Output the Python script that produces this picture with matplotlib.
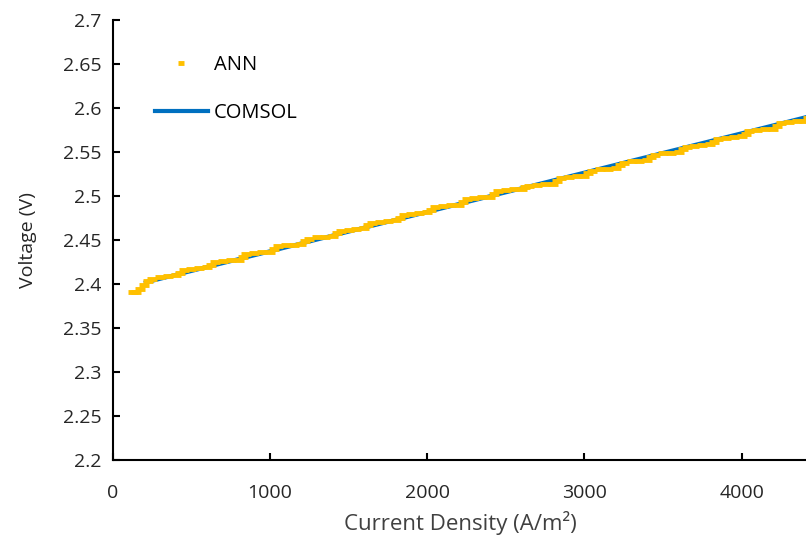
import matplotlib.pyplot as plt
import numpy as np

plt.rcParams['font.family'] = ['Open Sans', 'DejaVu Sans']

# COMSOL model curve
comsol_j = [210, 500, 1000, 1500, 2000, 2500, 3000, 3500, 4000, 4500]
comsol_v = [2.4020, 2.4150, 2.4373, 2.4597, 2.4820, 2.5044, 2.5267, 2.5491, 2.5714, 2.5938]

# ANN prediction
ann_j = [130, 150, 175, 200, 225,
         250, 300, 350, 400, 425, 450, 500, 550, 600, 625, 650, 700, 750, 800, 825,
         850, 900, 950, 1000, 1025, 1050, 1100, 1150, 1200, 1225, 1250, 1300, 1350, 1400, 1425,
         1450, 1500, 1550, 1600, 1625, 1650, 1700, 1750, 1800, 1825, 1850, 1900, 1950, 2000, 2025,
         2050, 2100, 2150, 2200, 2225, 2250, 2300, 2350, 2400, 2425, 2450, 2500, 2550, 2600, 2625,
         2650, 2700, 2750, 2800, 2825, 2850, 2900, 2950, 3000, 3025, 3050, 3100, 3150, 3200, 3225,
         3250, 3300, 3350, 3400, 3425, 3450, 3500, 3550, 3600, 3625, 3650, 3700, 3750, 3800, 3825,
         3850, 3900, 3950, 4000, 4025, 4050, 4100, 4150, 4200, 4225, 4250, 4300, 4350, 4400, 4425,
         4450]
ann_v = [2.3905, 2.3912, 2.3945, 2.3990, 2.4035,
         2.4062, 2.4078, 2.4090, 2.4100, 2.4130, 2.4158, 2.4172, 2.4182, 2.4189, 2.4220,
         2.4248, 2.4262, 2.4271, 2.4279, 2.4310, 2.4338, 2.4352, 2.4361, 2.4368, 2.4400,
         2.4428, 2.4442, 2.4450, 2.4457, 2.4488, 2.4516, 2.4530, 2.4539, 2.4547, 2.4578,
         2.4606, 2.4620, 2.4629, 2.4636, 2.4668, 2.4696, 2.4710, 2.4718, 2.4726, 2.4757,
         2.4785, 2.4799, 2.4808, 2.4815, 2.4846, 2.4874, 2.4888, 2.4897, 2.4904, 2.4935,
         2.4963, 2.4977, 2.4986, 2.4994, 2.5025, 2.5053, 2.5067, 2.5076, 2.5083, 2.5100,
         2.5114, 2.5128, 2.5135, 2.5143, 2.5174, 2.5202, 2.5216, 2.5225, 2.5232, 2.5263,
         2.5291, 2.5306, 2.5314, 2.5321, 2.5352, 2.5380, 2.5395, 2.5403, 2.5411, 2.5442,
         2.5470, 2.5485, 2.5493, 2.5500, 2.5531, 2.5560, 2.5574, 2.5582, 2.5590, 2.5621,
         2.5649, 2.5663, 2.5672, 2.5679, 2.5710, 2.5738, 2.5753, 2.5761, 2.5768, 2.5800,
         2.5828, 2.5842, 2.5850, 2.5858, 2.5888, 2.5912]

fig = plt.figure(figsize=(8.06, 5.47), dpi=100)
ax = fig.add_axes([0.140, 0.159, 0.862, 0.804])

ax.plot(comsol_j, comsol_v, color='#0070C0', lw=3, label='COMSOL', zorder=2)
ax.plot(ann_j, ann_v, ls='none', marker='_', ms=7, mew=3.5, color='#FFC000',
        label='ANN', zorder=3)

ax.set_xlim(0, 4420)
ax.set_ylim(2.2, 2.7)
ax.set_xticks([0, 1000, 2000, 3000, 4000])
ax.set_yticks(np.arange(2.2, 2.7001, 0.05))
ax.set_yticklabels(['2.2', '2.25', '2.3', '2.35', '2.4', '2.45', '2.5', '2.55', '2.6', '2.65', '2.7'])
ax.tick_params(direction='in', length=5, width=1.5, labelsize=14, labelcolor='#262626')
ax.tick_params(axis='y', pad=8)
ax.tick_params(axis='x', pad=17)
ax.spines['top'].set_visible(False)
ax.spines['right'].set_visible(False)
ax.spines['left'].set_linewidth(1.5)
ax.spines['bottom'].set_linewidth(1.5)

ax.set_xlabel('Current Density (A/m²)', fontsize=16, color='#404040', labelpad=7)
ax.set_ylabel('Voltage (V)', fontsize=14, color='#262626', labelpad=19)

handles, labels = ax.get_legend_handles_labels()
ax.legend(handles[::-1], labels[::-1], loc='upper left', bbox_to_anchor=(0.035, 0.962),
          frameon=False, fontsize=14.5, handlelength=2.6, handletextpad=0.3,
          labelspacing=1.4, markerscale=0.6)

fig.savefig('out.png', dpi=100)
